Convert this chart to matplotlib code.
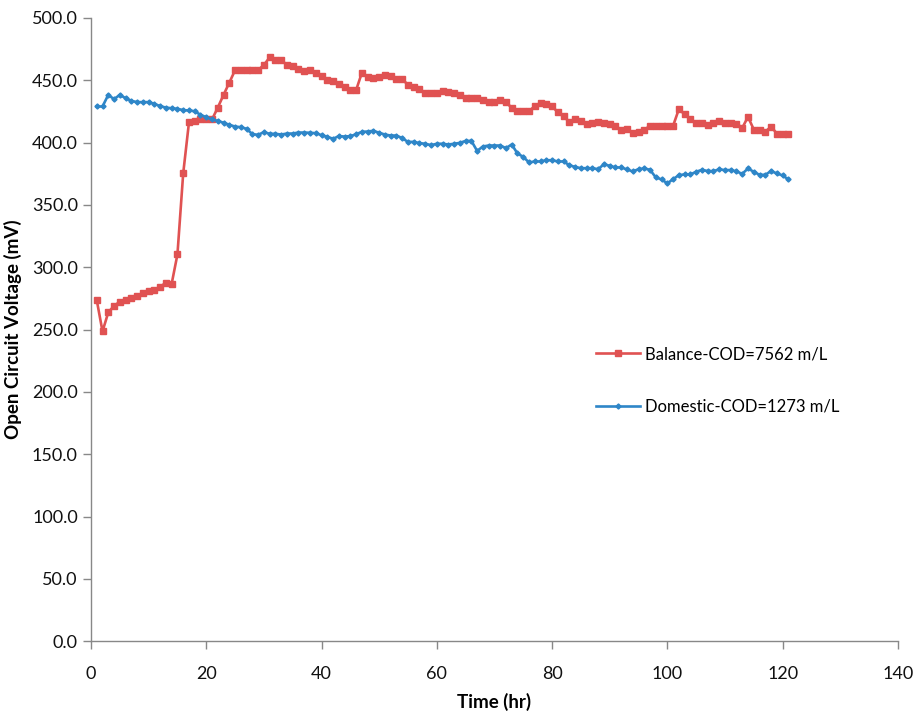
import matplotlib
matplotlib.use("Agg")
import matplotlib.pyplot as plt

plt.rcParams['font.family'] = ['Lato', 'DejaVu Sans']

# sampling time, hours
hours = list(range(1, 122))

balance_ocv = [
    273.6, 248.5, 263.7, 269.0, 272.2, 273.8, 275.4, 277.0, 279.2, 281.0,
    281.6, 284.5, 287.3, 286.7, 310.2, 375.2, 416.1, 416.9, 418.5, 418.5,
    418.5, 428.0, 438.2, 448.0, 458.0, 458.0, 458.0, 458.0, 458.0, 462.3,
    468.2, 466.3, 466.0, 462.3, 461.2, 459.0, 457.5, 457.8, 455.6, 453.7,
    450.3, 449.0, 446.8, 444.7, 442.0, 442.0, 455.9, 452.9, 451.6, 452.7,
    454.3, 453.2, 450.8, 450.8, 446.3, 444.7, 442.8, 439.6, 439.6, 440.1,
    441.4, 440.4, 440.1, 438.2, 436.1, 435.6, 436.1, 434.5, 432.6, 432.6,
    434.0, 432.1, 428.0, 425.1, 425.1, 425.1, 429.2, 431.8, 431.0, 429.2,
    424.1, 420.9, 416.7, 418.5, 416.9, 414.9, 415.7, 416.8, 416.0, 415.2,
    413.6, 409.9, 411.0, 407.5, 408.6, 410.2, 413.4, 413.4, 413.4, 413.4,
    413.4, 426.7, 422.7, 418.7, 415.7, 415.7, 413.9, 415.7, 417.3, 415.7,
    415.7, 415.2, 411.7, 420.6, 410.4, 410.4, 408.6, 412.8, 407.2, 407.2,
    407.2,
]

domestic_ocv = [
    428.9, 428.9, 438.2, 434.8, 438.2, 435.6, 433.4, 432.4, 432.4, 432.4,
    431.0, 429.2, 428.0, 427.5, 427.0, 426.0, 425.7, 425.1, 422.2, 420.3,
    418.5, 417.4, 415.8, 414.2, 412.8, 412.3, 411.0, 406.7, 406.2, 408.3,
    407.0, 407.0, 406.4, 407.2, 407.2, 408.0, 408.0, 407.8, 407.5, 405.9,
    404.6, 403.0, 405.1, 404.8, 405.1, 406.6, 408.6, 408.8, 409.4, 407.8,
    406.4, 405.6, 405.6, 403.5, 400.5, 400.5, 399.5, 399.0, 397.9, 399.0,
    399.0, 398.4, 399.0, 399.7, 401.3, 401.3, 393.3, 396.8, 397.6, 397.6,
    397.6, 395.5, 398.4, 391.2, 388.5, 384.0, 384.8, 384.8, 385.8, 385.8,
    384.8, 384.8, 381.8, 380.4, 379.4, 379.4, 379.4, 378.6, 382.6, 381.3,
    380.0, 380.0, 378.4, 376.8, 378.6, 379.2, 378.1, 372.0, 370.4, 367.2,
    370.6, 373.8, 374.4, 374.4, 376.5, 378.1, 377.1, 377.1, 378.4, 377.9,
    377.9, 376.8, 374.9, 379.2, 376.5, 374.1, 374.1, 377.1, 375.2, 373.6,
    370.4,
]

labels = ["Balance-COD=7562 m/L", "Domestic-COD=1273 m/L"]
x_ticks = [0, 20, 40, 60, 80, 100, 120, 140]
y_ticks = [0, 50, 100, 150, 200, 250, 300, 350, 400, 450, 500]

fig = plt.figure(figsize=(9.19, 7.14), dpi=100)
ax = fig.add_axes([0.099, 0.102, 0.878, 0.873])

ax.plot(hours, balance_ocv, color="#E05252", lw=1.9, marker="s", ms=4.2,
        label=labels[0])
ax.plot(hours, domestic_ocv, color="#2E86C8", lw=1.9, marker="D", ms=2.6,
        label=labels[1])

ax.set_xlim(0, 140)
ax.set_ylim(0, 500)
ax.set_xticks(x_ticks)
ax.set_yticks(y_ticks)
ax.set_yticklabels([f"{v:.1f}" for v in y_ticks])

for side in ("top", "right"):
    ax.spines[side].set_visible(False)
for side in ("left", "bottom"):
    ax.spines[side].set_color("#888888")
    ax.spines[side].set_linewidth(1.0)
ax.tick_params(axis="both", direction="out", length=6, width=1,
               color="#888888", labelsize=13, labelcolor="#111111")
ax.tick_params(axis="x", pad=12)

ax.set_xlabel("Time (hr)", fontsize=13.5, fontweight="bold", labelpad=8)
ax.set_ylabel("Open Circuit Voltage (mV)", fontsize=13.5, fontweight="bold",
              labelpad=7)

ax.legend(frameon=False, loc="center left", bbox_to_anchor=(0.649, 0.467),
          bbox_transform=fig.transFigure, fontsize=12, handlelength=2.6,
          handletextpad=0.3, labelspacing=2.2, borderpad=0, borderaxespad=0)

fig.savefig("out.png", dpi=100)
